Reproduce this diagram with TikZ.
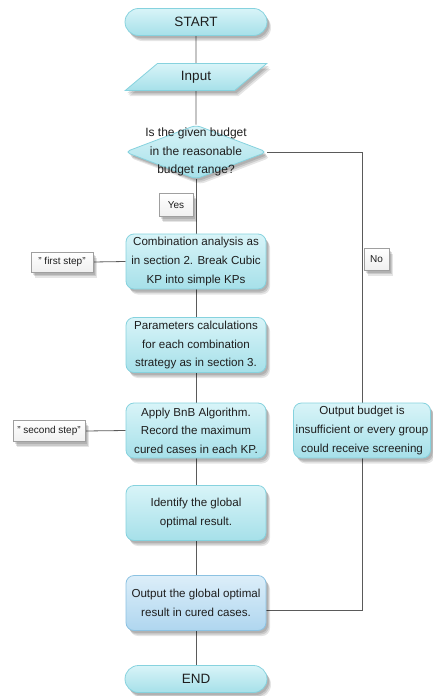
\documentclass[tikz,border=0pt]{standalone}
\usepackage{fontspec}
\setmainfont{Liberation Sans}
\usetikzlibrary{shapes.geometric,shadows,calc,backgrounds}
\definecolor{cyantop}{HTML}{D8F4F8}
\definecolor{cyanbot}{HTML}{A6E0E9}
\definecolor{cyanedge}{HTML}{86D2DE}
\definecolor{bluetop}{HTML}{DCEEF9}
\definecolor{bluebot}{HTML}{AFD6EF}
\definecolor{blueedge}{HTML}{8CC2E2}
\definecolor{linegray}{HTML}{5A5A5A}
\definecolor{txt}{HTML}{1E1E1E}
\tikzset{
  softshadow/.style={
    drop shadow={shadow xshift=2pt,shadow yshift=-2.5pt,opacity=0.12,fill=black},
    drop shadow={shadow xshift=3pt,shadow yshift=-4pt,opacity=0.12,fill=black},
    drop shadow={shadow xshift=4pt,shadow yshift=-5.5pt,opacity=0.10,fill=black}},
  procbox/.style={rectangle,rounded corners=8pt,draw=cyanedge,line width=0.8pt,
    top color=cyantop,bottom color=cyanbot,softshadow,
    minimum width=140pt,minimum height=55pt,inner sep=0pt,align=center,
    text=txt,font=\fontsize{11.6}{18.6}\selectfont},
  outbox/.style={procbox,draw=blueedge,top color=bluetop,bottom color=bluebot},
  terminal/.style={rectangle,rounded corners=13.5pt,draw=cyanedge,line width=0.8pt,
    top color=cyantop,bottom color=cyanbot,softshadow,
    minimum width=142pt,minimum height=27pt,inner sep=0pt,
    text=txt,font=\fontsize{13.5}{16}\selectfont},
  iobox/.style={trapezium,trapezium left angle=44,trapezium right angle=136,
    trapezium stretches=true,draw=cyanedge,line width=0.8pt,
    top color=cyantop,bottom color=cyanbot,softshadow,
    minimum width=142pt,minimum height=27pt,inner sep=0pt,
    text=txt,font=\fontsize{13.5}{16}\selectfont},
  decbox/.style={diamond,rounded corners=5pt,draw=cyanedge,line width=0.8pt,
    top color=cyantop,bottom color=cyanbot,softshadow,
    minimum width=142pt,minimum height=54pt,inner sep=0pt,aspect=2.6},
  dectext/.style={align=center,text=txt,font=\fontsize{12}{18.5}\selectfont,inner sep=0pt},
  notebox/.style={rectangle,draw=gray!75,line width=0.6pt,
    top color=white,bottom color=gray!12,softshadow,
    inner sep=0pt,text=txt,font=\fontsize{10}{12}\selectfont},
  conn/.style={draw=linegray,line width=0.8pt}
}
\begin{document}
\begin{tikzpicture}[x=1pt,y=-1pt]
\useasboundingbox (0,0) rectangle (433,696);
% nodes
\node[terminal] (start) at (196,22) {START};
\node[iobox] (inp) at (196,77) {Input};
\node[decbox] (dec) at (196,152) {};
\node[dectext] (dect) at (dec.center) {Is the given budget\\in the reasonable\\budget range?};
\node[notebox,minimum width=34pt,minimum height=23pt] (yes) at (176,205) {Yes};
\node[procbox] (b1) at (196,261.5) {Combination analysis as\\in section 2. Break Cubic\\KP into simple KPs};
\node[notebox,minimum width=62pt,minimum height=20pt] (fs) at (62,262) {\symbol{34} first step\symbol{34}};
\node[procbox] (b2) at (196,345) {Parameters calculations\\for each combination\\strategy as in section 3.};
\node[procbox] (b3) at (196,430.5) {Apply BnB Algorithm.\\Record the maximum\\cured cases in each KP.};
\node[notebox,minimum width=72pt,minimum height=21pt] (ss) at (49,431) {\symbol{34} second step\symbol{34}};
\node[procbox] (b4) at (196,513) {Identify the global\\optimal result.};
\node[outbox] (b5) at (196,603) {Output the global optimal\\result in cured cases.};
\node[terminal] (end) at (196,679) {END};
\node[procbox,minimum width=137pt] (rb) at (362,430.5) {Output budget is\\insufficient or every group\\could receive screening};
\node[notebox,minimum width=25pt,minimum height=22pt] (no) at (376.5,259) {No};
\coordinate (j) at ([yshift=-7pt]b5.east);
% connectors behind the nodes
\begin{scope}[on background layer]
\draw[conn] (start.south) -- (inp.north);
\draw[conn] (inp.south) -- (dec.north);
\draw[conn] (dec.south) -- (b1.north);
\draw[conn] (b1.south) -- (b2.north);
\draw[conn] (b2.south) -- (b3.north);
\draw[conn] (b3.south) -- (b4.north);
\draw[conn] (b4.south) -- (b5.north);
\draw[conn] (b5.south) -- (end.north);
\draw[conn] (dec.east) -| (rb.north);
\draw[conn] (rb.south) |- (j);
\draw[conn] (fs.east) -- (b1.west);
\draw[conn] (ss.east) -- (b3.west);
\end{scope}
\end{tikzpicture}
\end{document}
